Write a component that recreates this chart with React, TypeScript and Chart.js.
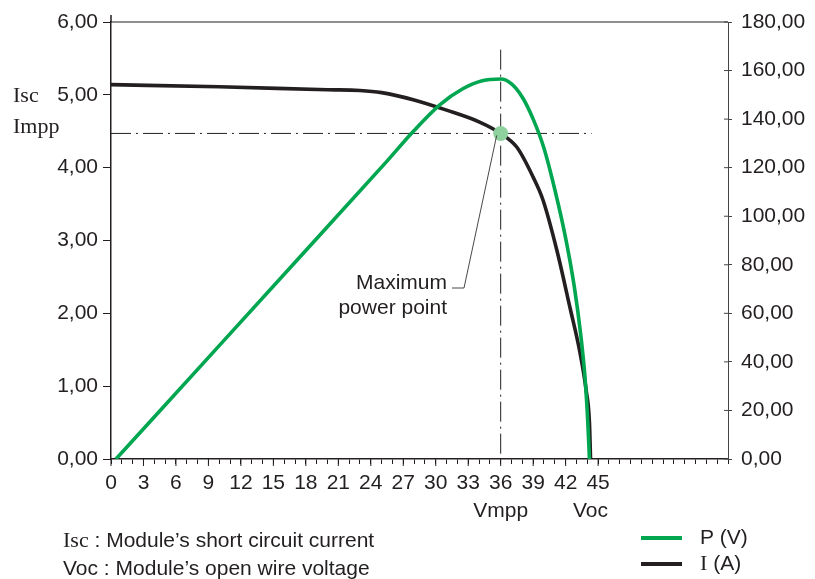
import React, { useEffect, useRef } from 'react';
import { Chart, registerables } from 'chart.js';

Chart.register(...registerables);

// ---- data ----
const currentVoltage = [0, 10, 20, 23, 25, 28, 31, 34, 36, 37.5, 39, 39.9, 41.2, 42.4, 43.3, 43.9, 44.2, 44.3];
const currentValues = [5.14, 5.11, 5.07, 5.06, 5.03, 4.93, 4.79, 4.63, 4.47, 4.28, 3.87, 3.56, 2.86, 2.08, 1.48, 0.94, 0.5, 0];

const powerVoltage = [0.46, 10, 17.45, 25.5, 28, 30.4, 32.5, 34.3, 36, 37, 38, 39, 40, 41, 42, 42.8, 43.4, 43.8, 44.05, 44.2];
const powerValues = [0, 46.7, 83.2, 122.7, 135.3, 146, 152.5, 155.8, 156.5, 154.5, 149, 140, 128, 111, 91, 71, 51, 33, 15, 0];

const VMPP = 36;
const IMPP = 4.47;
const ISC = 5.0; // row where the Isc label sits
const VOC = 44.3;

const xTickLabels = [0, 3, 6, 9, 12, 15, 18, 21, 24, 27, 30, 33, 36, 39, 42, 45];
const xMax = 57;
const currentMax = 6;
const powerMax = 180;

const GREEN = '#00a650';
const BLACK = '#231f20';
const MPP_COLOR = '#8fd19e';
const SANS = '"Liberation Sans", Arial, sans-serif';
const SERIF = '"Liberation Serif", "Times New Roman", serif';
const FS = 21;

type Seg = { t: string; f: string };
function drawSegs(ctx: CanvasRenderingContext2D, segs: Seg[], x: number, y: number) {
  let cx = x;
  for (const s of segs) {
    ctx.font = s.f;
    ctx.fillText(s.t, cx, y);
    cx += ctx.measureText(s.t).width;
  }
}

const overlay = {
  id: 'overlay',
  beforeDatasetsDraw(chart: any) {
    const { ctx, chartArea } = chart;
    const x = chart.scales.x;
    const y = chart.scales.y;
    ctx.save();
    ctx.strokeStyle = BLACK;
    ctx.lineWidth = 1.2;
    ctx.beginPath();
    ctx.moveTo(chartArea.left, chartArea.top);
    ctx.lineTo(chartArea.right, chartArea.top);
    ctx.stroke();
    ctx.lineWidth = 1.5;
    ctx.beginPath();
    ctx.moveTo(chartArea.left, chartArea.top - 7);
    ctx.lineTo(chartArea.left, chartArea.top);
    ctx.stroke();
    ctx.lineWidth = 1;
    ctx.setLineDash([20, 5, 2, 5]);
    const px = x.getPixelForValue(VMPP);
    const py = y.getPixelForValue(IMPP);
    ctx.beginPath();
    ctx.moveTo(chartArea.left, py);
    ctx.lineTo(x.getPixelForValue(VOC + 0.1), py);
    ctx.stroke();
    ctx.beginPath();
    ctx.moveTo(px, y.getPixelForValue(5.62));
    ctx.lineTo(px, chartArea.bottom);
    ctx.stroke();
    ctx.restore();
  },
  afterDraw(chart: any) {
    const { ctx, chartArea } = chart;
    const x = chart.scales.x;
    const y = chart.scales.y;
    const y1 = chart.scales.y1;
    ctx.save();
    ctx.strokeStyle = BLACK;
    ctx.lineWidth = 1;
    for (const v of xTickLabels) {
      const px = x.getPixelForValue(v);
      ctx.beginPath();
      ctx.moveTo(px, chartArea.bottom);
      ctx.lineTo(px, chartArea.bottom + 7);
      ctx.stroke();
    }
    ctx.strokeStyle = '#444';
    for (let v = 0; v <= powerMax; v += 20) {
      const py = y1.getPixelForValue(v);
      ctx.beginPath();
      ctx.moveTo(chartArea.right - 4, py);
      ctx.lineTo(chartArea.right, py);
      ctx.stroke();
    }
    const mx = x.getPixelForValue(VMPP);
    const my = y.getPixelForValue(IMPP);
    ctx.strokeStyle = '#333';
    ctx.lineWidth = 0.9;
    ctx.beginPath();
    ctx.moveTo(452, 288);
    ctx.lineTo(464, 288);
    ctx.lineTo(mx - 4, my + 2);
    ctx.stroke();

    ctx.fillStyle = BLACK;
    ctx.textBaseline = 'middle';
    ctx.font = `${FS}px ${SANS}`;
    ctx.textAlign = 'right';
    ctx.fillText('Maximum', 447, 283);
    ctx.fillText('power point', 447, 308);
    ctx.textAlign = 'center';
    ctx.fillText('Vmpp', mx, 511);
    ctx.fillText('Voc', x.getPixelForValue(VOC), 511);
    ctx.textAlign = 'left';
    ctx.textBaseline = 'alphabetic';
    ctx.font = `22px ${SERIF}`;
    ctx.fillText('Isc', 13, y.getPixelForValue(ISC) + 7);
    ctx.fillText('Impp', 13, y.getPixelForValue(IMPP));
    ctx.textBaseline = 'middle';
    drawSegs(ctx, [{ t: 'Isc', f: `22px ${SERIF}` }, { t: ' : Module\u2019s short circuit current', f: `${FS}px ${SANS}` }], 63, 541);
    drawSegs(ctx, [{ t: 'Voc : Module\u2019s open wire voltage', f: `${FS}px ${SANS}` }], 63, 569);
    const ds = chart.data.datasets;
    const rows = [
      { color: ds[0].borderColor, segs: [{ t: 'P (V)', f: `${FS}px ${SANS}` }], yy: 538 },
      { color: ds[1].borderColor, segs: [{ t: 'I', f: `22px ${SERIF}` }, { t: ' (A)', f: `${FS}px ${SANS}` }], yy: 564 },
    ];
    for (const r of rows) {
      ctx.strokeStyle = r.color;
      ctx.lineWidth = 4;
      ctx.beginPath();
      ctx.moveTo(641, r.yy);
      ctx.lineTo(682, r.yy);
      ctx.stroke();
      ctx.fillStyle = BLACK;
      drawSegs(ctx, r.segs, 700, r.yy);
    }
    ctx.restore();
  },
};

const fmt = (v: number) => v.toFixed(2).replace('.', ',');

export default function App() {
  const ref = useRef<HTMLCanvasElement>(null);
  useEffect(() => {
    const chart = new Chart(ref.current!, {
      type: 'line',
      data: {
        datasets: [
          {
            label: 'P (V)',
            data: powerVoltage.map((v, i) => ({ x: v, y: powerValues[i] })),
            yAxisID: 'y1',
            borderColor: GREEN,
            borderWidth: 3.6,
            pointRadius: 0,
            cubicInterpolationMode: 'monotone',
            order: 1,
          },
          {
            label: 'I (A)',
            data: currentVoltage.map((v, i) => ({ x: v, y: currentValues[i] })),
            yAxisID: 'y',
            borderColor: BLACK,
            borderWidth: 3.6,
            pointRadius: 0,
            cubicInterpolationMode: 'monotone',
            order: 2,
          },
          {
            label: 'MPP',
            data: [{ x: VMPP, y: IMPP }],
            yAxisID: 'y',
            showLine: false,
            pointRadius: 7.5,
            pointBackgroundColor: MPP_COLOR,
            pointBorderWidth: 0,
            borderColor: MPP_COLOR,
            order: 0,
          },
        ],
      } as any,
      options: {
        animation: false,
        responsive: true,
        maintainAspectRatio: false,
        layout: { padding: { top: 22, left: 0, right: 0, bottom: 0 } },
        plugins: { legend: { display: false }, tooltip: { enabled: false } },
        events: [],
        scales: {
          x: {
            type: 'linear',
            position: 'bottom',
            min: 0,
            max: xMax,
            afterFit: (s: any) => { s.height = 120; },
            ticks: {
              stepSize: 1,
              autoSkip: false,
              maxRotation: 0,
              padding: 7,
              color: BLACK,
              font: { family: SANS, size: FS },
              callback: (v: any) => (xTickLabels.includes(Number(v)) ? String(v) : ''),
            },
            grid: { drawOnChartArea: false, tickLength: 5, color: BLACK, lineWidth: 1 },
            border: { color: BLACK, width: 1.5 },
          },
          y: {
            position: 'left',
            min: 0,
            max: currentMax,
            afterFit: (s: any) => { s.width = 111; },
            ticks: {
              stepSize: 1,
              padding: 5,
              color: BLACK,
              font: { family: SANS, size: FS },
              callback: (v: any) => fmt(Number(v)),
            },
            grid: { drawOnChartArea: false, tickLength: 8, color: BLACK, lineWidth: 1 },
            border: { color: BLACK, width: 1.5 },
          },
          y1: {
            position: 'right',
            min: 0,
            max: powerMax,
            afterFit: (s: any) => { s.width = 87; },
            ticks: {
              stepSize: 20,
              padding: 9,
              color: BLACK,
              font: { family: SANS, size: FS },
              callback: (v: any) => fmt(Number(v)),
            },
            grid: { drawOnChartArea: false, tickLength: 4, color: '#444', lineWidth: 1 },
            border: { color: '#444', width: 1 },
          },
        },
      } as any,
      plugins: [overlay],
    });
    return () => chart.destroy();
  }, []);
  return (
    <div style={{ position: 'fixed', left: 0, top: 0, width: 815, height: 579, background: '#fff' }}>
      <canvas ref={ref} />
    </div>
  );
}
